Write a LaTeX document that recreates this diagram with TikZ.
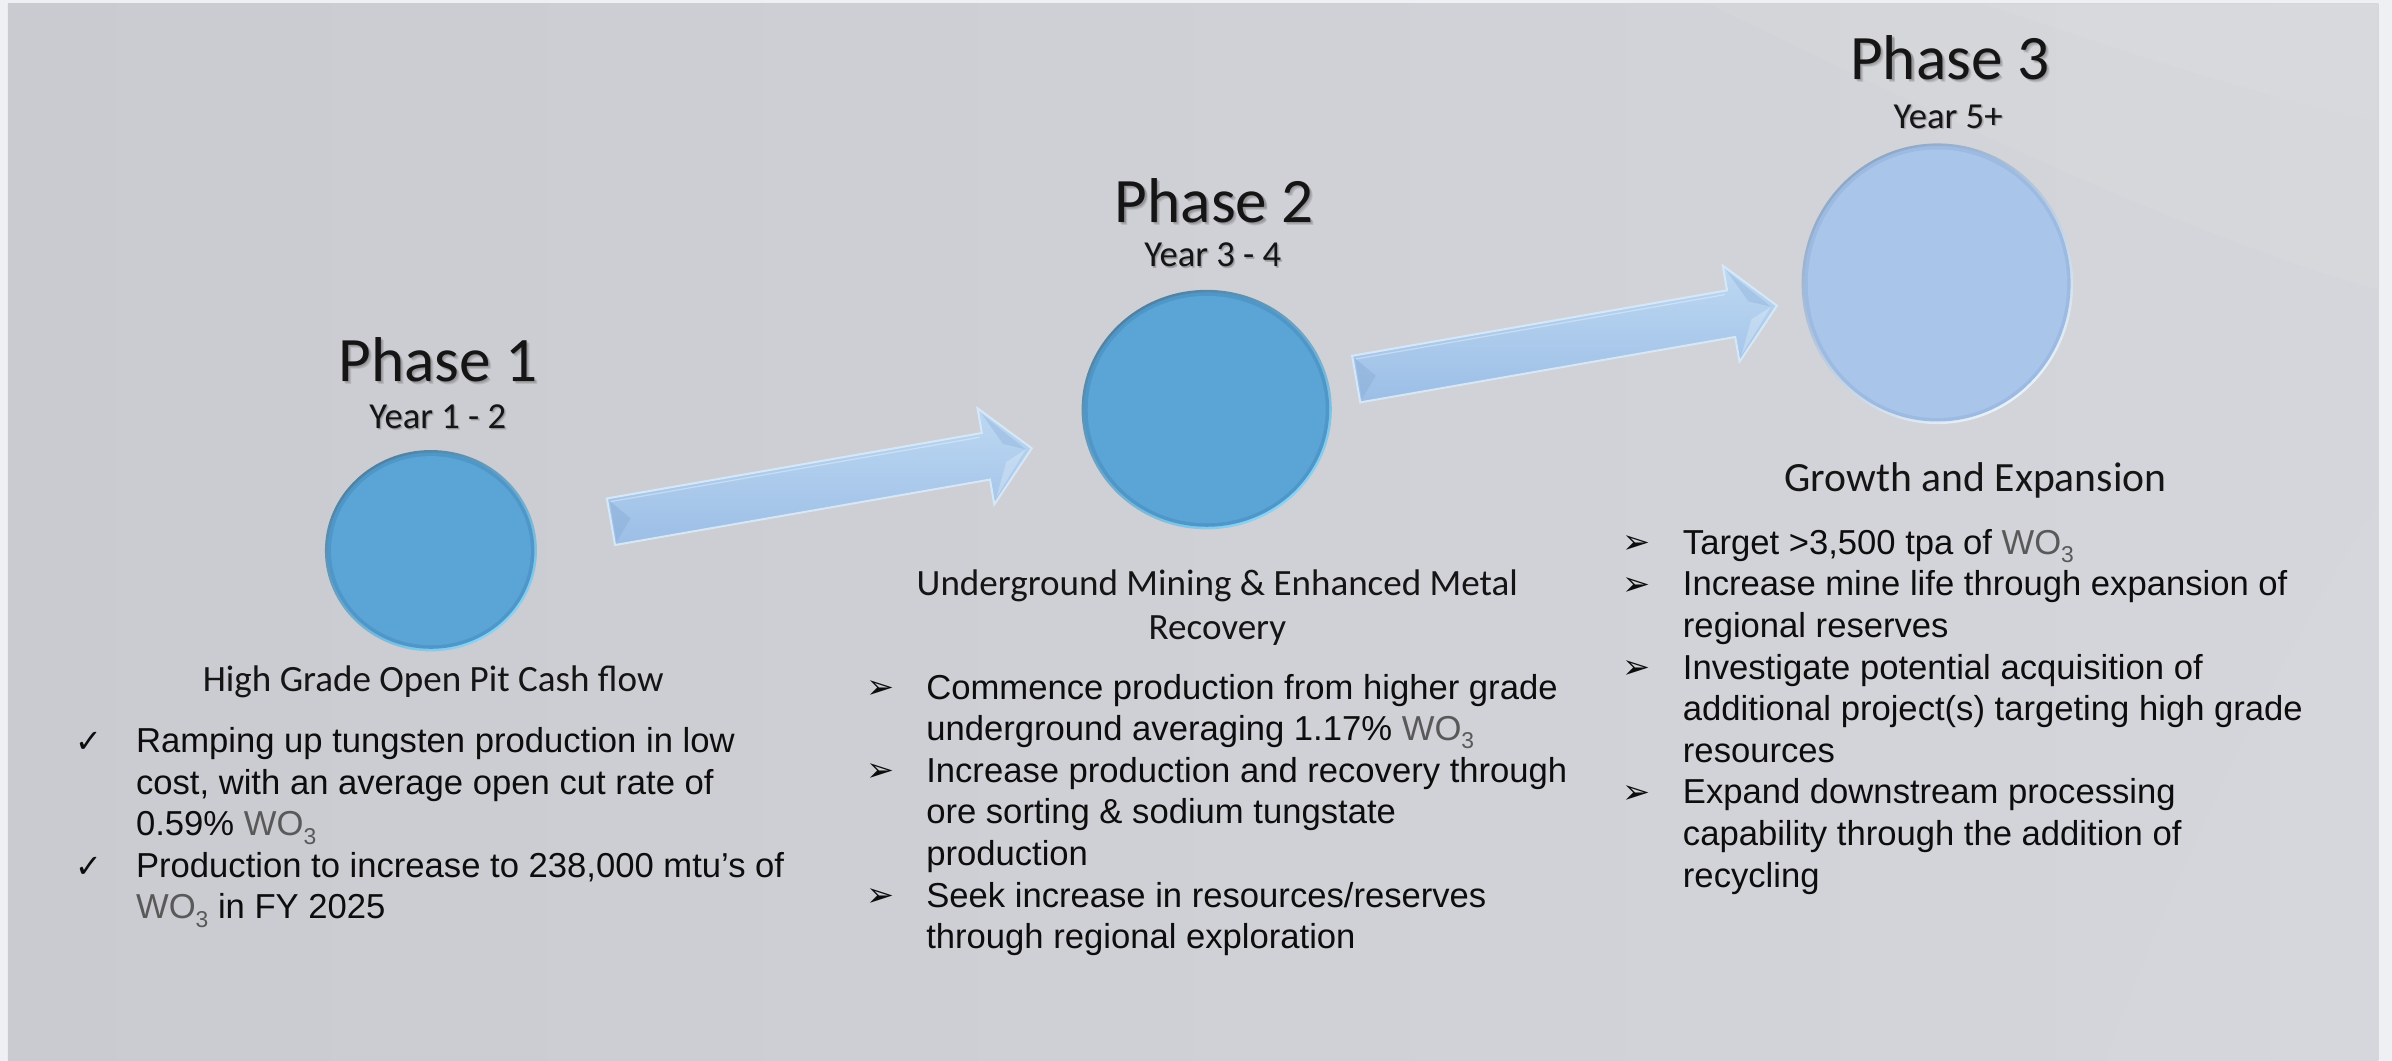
\documentclass[tikz,border=0pt]{standalone}
\usepackage{fontspec}
\setmainfont{Carlito}
\newfontfamily\arialfont{Liberation Sans}
\newfontfamily\symfont{DejaVu Sans}
\usetikzlibrary{shapes.geometric}

\definecolor{pagecol}{HTML}{EEF0F3}
\definecolor{slideL}{HTML}{C9CBD0}
\definecolor{slideR}{HTML}{D4D6DB}
\definecolor{titlecol}{HTML}{151515}
\definecolor{bodycol}{HTML}{0D0D0D}
\definecolor{wogray}{HTML}{595959}
\definecolor{discfill}{HTML}{5AA5D5}
\definecolor{discdark}{HTML}{52809F}
\definecolor{disclight}{HTML}{86D4FA}
\definecolor{discshade}{HTML}{4F97C8}
\definecolor{palefill}{HTML}{A9C6EA}
\definecolor{paledark}{HTML}{8FA8C6}
\definecolor{palelight}{HTML}{E6F2FC}
\definecolor{paleshade}{HTML}{9DBBE2}
\definecolor{arrtop}{HTML}{BDD8F2}
\definecolor{arrbot}{HTML}{9CBEE6}
\definecolor{arredge}{HTML}{D6E8F8}
\definecolor{arrfacet}{HTML}{88ACD6}

% tungsten trioxide, grey with a lowered small 3
\newcommand\wothree{{\color{wogray}WO\raisebox{-0.24em}{\fontsize{15}{15}\selectfont 3}}}

\tikzset{
  phasetitle/.style={font=\fontsize{41.5}{48}\selectfont, text=titlecol, inner sep=0, anchor=base},
  titleshadow/.style={phasetitle, text=black, opacity=0.10},
  yearlabel/.style={font=\fontsize{24}{28}\selectfont, text=titlecol, inner sep=0, anchor=base},
  yearshadow/.style={yearlabel, text=black, opacity=0.10},
  subtitle/.style={font=\fontsize{24.3}{29}\selectfont, text=titlecol, inner sep=0, anchor=north, align=center},
  itemtext/.style={font=\arialfont\fontsize{22.7}{27.3}\selectfont, text=bodycol, inner sep=0, anchor=north west, align=left},
  tickmark/.style={font=\symfont\fontsize{21}{21}\selectfont, text=bodycol, inner sep=0, anchor=base},
  arrowmark/.style={font=\symfont\fontsize{22}{22}\selectfont, text=bodycol, inner sep=0, anchor=base},
  disc/.style={ellipse, inner sep=0, top color=discdark, bottom color=disclight, shading angle=35},
  paledisc/.style={ellipse, inner sep=0, top color=paledark, bottom color=palelight, shading angle=35},
  blockarrow/.pic={
    \shade[top color=arrtop, bottom color=arrbot, draw=arredge, line width=1.3pt, line join=miter]
      (0,-15.5) -- (249.5,-15.5) -- (249.5,-32) -- (280,0) -- (249.5,32)
      -- (249.5,15.5) -- (0,15.5) -- cycle;
    % bevel facets at the tail and in the head
    \fill[arrfacet, opacity=0.45] (1.5,-13.5) -- (13,0) -- (1.5,13.5) -- cycle;
    \fill[arrfacet, opacity=0.35] (251.5,-28) -- (262,-6) -- (276,0) -- cycle;
    \fill[white, opacity=0.25] (251.5,28) -- (262,6) -- (276,0) -- cycle;
    \draw[white, opacity=0.35, line width=0.8pt] (2,-13) -- (247.5,-13);
  }
}

\begin{document}
\begin{tikzpicture}[x=1pt,y=-1pt]
\useasboundingbox (0,0) rectangle (1568,695.5);

% page and slide background
\fill[pagecol] (0,0) rectangle (1568,695.5);
\shade[left color=slideL, right color=slideR] (5.2,2.6) rectangle (1559,695.5);
\fill[white, opacity=0.05] (1120,2.6) .. controls (1260,70) and (1420,150) .. (1559,190) -- (1559,2.6) -- cycle;
\fill[white, opacity=0.05] (1300,2.6) .. controls (1380,30) and (1470,60) .. (1559,80) -- (1559,2.6) -- cycle;
\fill[white, opacity=0.04] (1380,695.5) .. controls (1430,560) and (1500,420) .. (1559,330) -- (1559,695.5) -- cycle;

% connecting block arrows
\pic[rotate=9.9] (arrowA) at (400.5,342) {blockarrow};
\pic[rotate=9.9] (arrowB) at (889,248.5) {blockarrow};

% phase discs: thin bevelled rim, soft inner edge, flat face
\node[disc, minimum width=139pt, minimum height=132pt] (c1) at (282.5,361) {};
\fill[discshade] (c1.center) ellipse [x radius=67.8pt, y radius=64.3pt];
\fill[discfill] (c1.center) ellipse [x radius=65.5pt, y radius=62pt];

\node[disc, minimum width=164pt, minimum height=157pt] (c2) at (791,268.5) {};
\fill[discshade] (c2.center) ellipse [x radius=80.3pt, y radius=76.8pt];
\fill[discfill] (c2.center) ellipse [x radius=78pt, y radius=74.5pt];

\node[paledisc, minimum width=178pt, minimum height=184pt] (c3) at (1270,186) {};
\fill[paleshade] (c3.center) ellipse [x radius=87.3pt, y radius=90.3pt];
\fill[palefill] (c3.center) ellipse [x radius=85pt, y radius=88pt];

% phase titles with a soft drop shadow
\foreach \d in {0.8,1.4,2.0} {
  \node[titleshadow] at (287+\d,250+\d) {Phase 1};
  \node[titleshadow] at (796+\d,146+\d) {Phase 2};
  \node[titleshadow] at (1278+\d,52+\d) {Phase 3};
  \node[yearshadow] at (287+0.6*\d,281+0.6*\d) {Year 1 - 2};
  \node[yearshadow] at (795+0.6*\d,175+0.6*\d) {Year 3 - 4};
  \node[yearshadow] at (1277+0.6*\d,84+0.6*\d) {Year 5+};
}
\node[phasetitle] (t1) at (287,250) {Phase 1};
\node[phasetitle] (t2) at (796,146) {Phase 2};
\node[phasetitle] (t3) at (1278,52) {Phase 3};
\node[yearlabel] (y1) at (287,281) {Year 1 - 2};
\node[yearlabel] (y2) at (795,175) {Year 3 - 4};
\node[yearlabel] (y3) at (1277,84) {Year 5+};

% stage headings
\node[subtitle] (s1) at (284,432.7) {\strut High Grade Open Pit Cash flow};
\node[subtitle] (s2) at (798,369.7) {\strut Underground Mining \& Enhanced Metal\\Recovery};
\node[subtitle, font=\fontsize{27.3}{32}\selectfont] (s3) at (1295,299.6) {\strut Growth and Expansion};

% phase 1 points
\node[tickmark] (m1a) at (58,493) {✓};
\node[itemtext] (p1a) at (89,473.9) {\strut Ramping up tungsten production in low\\cost, with an average open cut rate of\\0.59\% \wothree};
\node[tickmark] (m1b) at (58,574.9) {✓};
\node[itemtext] (p1b) at (89,555.8) {\strut Production to increase to 238,000 mtu’s of\\\wothree{} in FY 2025};

% phase 2 points
\node[arrowmark] (m2a) at (577,458) {➢};
\node[itemtext] (p2a) at (607,438.9) {\strut Commence production from higher grade\\underground averaging 1.17\% \wothree};
\node[arrowmark] (m2b) at (577,512.6) {➢};
\node[itemtext] (p2b) at (607,493.5) {\strut Increase production and recovery through\\ore sorting \& sodium tungstate\\production};
\node[arrowmark] (m2c) at (577,594.5) {➢};
\node[itemtext] (p2c) at (607,575.4) {\strut Seek increase in resources/reserves\\through regional exploration};

% phase 3 points
\node[arrowmark] (m3a) at (1073,363) {➢};
\node[itemtext] (p3a) at (1103,343.9) {\strut Target >3,500 tpa of \wothree};
\node[arrowmark] (m3b) at (1073,390.3) {➢};
\node[itemtext] (p3b) at (1103,371.2) {\strut Increase mine life through expansion of\\regional reserves};
\node[arrowmark] (m3c) at (1073,444.9) {➢};
\node[itemtext] (p3c) at (1103,425.8) {\strut Investigate potential acquisition of\\additional project(s) targeting high grade\\resources};
\node[arrowmark] (m3d) at (1073,526.8) {➢};
\node[itemtext] (p3d) at (1103,507.7) {\strut Expand downstream processing\\capability through the addition of\\recycling};
\end{tikzpicture}
\end{document}
